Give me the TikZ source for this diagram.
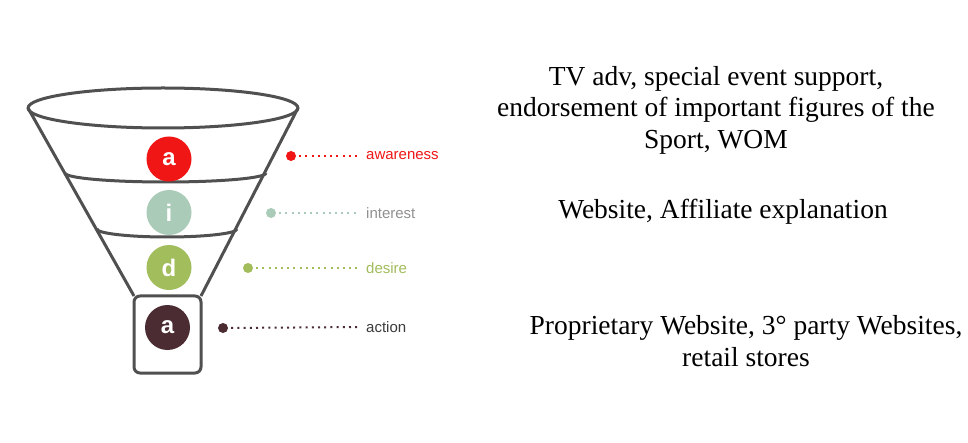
\documentclass[tikz,border=0pt]{standalone}
\usepackage{fontspec}
\setmainfont{Liberation Serif}
\newfontfamily\labelfont{Liberation Sans}
\begin{document}
\begin{tikzpicture}[x=1pt,y=-1pt,
  funnel/.style={draw=funnelgray,line width=3pt,line join=round},
  stagecircle/.style={circle,minimum size=45pt,inner sep=0pt,text=white,
    font=\labelfont\bfseries\fontsize{24}{24}\selectfont},
  stagedot/.style={circle,minimum size=10pt,inner sep=0pt},
  stagelabel/.style={anchor=west,inner sep=0pt,font=\labelfont\fontsize{15}{15}\selectfont},
  leader/.style={line width=2pt,dash pattern=on 2pt off 4.2pt,shorten <=3pt,shorten >=9pt},
  note/.style={align=center,inner sep=0pt,font=\fontsize{27.5}{31.5}\selectfont}]
\definecolor{funnelgray}{HTML}{505050}
\definecolor{awarered}{HTML}{F01616}
\definecolor{interestgreen}{HTML}{A9CBB7}
\definecolor{desireolive}{HTML}{A2BD5C}
\definecolor{actionbrown}{HTML}{4B2C32}
\definecolor{interestgray}{HTML}{8E938F}
\definecolor{actiongray}{HTML}{3C3C3C}

\fill[white] (0,0) rectangle (968,443);
\useasboundingbox (0,0) rectangle (968,443);

% funnel outline
\draw[funnel] (163,108) ellipse [x radius=135pt, y radius=20pt];
\draw[funnel,rounded corners=6pt] (134,296) rectangle (201,373);
\draw[funnel] (28,108) -- (134,296);
\draw[funnel] (298,108) -- (201,296);
% band separators
\draw[funnel] (65,173) .. controls (65,178) and (110,182) .. (165.5,182)
  .. controls (221,182) and (266,178) .. (266,173);
\draw[funnel] (97,229) .. controls (97,233.4) and (129,237) .. (167,237)
  .. controls (205,237) and (237,233.4) .. (237,229);

% stage circles
\node[stagecircle,fill=awarered] (c1) at (169,159) {a};
\node[stagecircle,fill=interestgreen] (c2) at (169,212.5) {i};
\node[stagecircle,fill=desireolive] (c3) at (169,267.5) {d};
\node[stagecircle,fill=actionbrown] (c4) at (167.5,327.5) {a};

% markers, leaders and labels
\node[stagedot,fill=awarered] (d1) at (291,156) {};
\node[stagedot,fill=interestgreen] (d2) at (271,213) {};
\node[stagedot,fill=desireolive] (d3) at (248,268) {};
\node[stagedot,fill=actionbrown] (d4) at (223,328) {};

\node[stagelabel,text=awarered] (l1) at (366,156) {awareness};
\node[stagelabel,text=interestgray] (l2) at (366,213) {interest};
\node[stagelabel,text=desireolive] (l3) at (366,268) {desire};
\node[stagelabel,text=actiongray] (l4) at (366,327) {action};

\draw[leader,draw=awarered] (d1) -- (l1.west);
\draw[leader,draw=interestgreen] (d2) -- (l2.west);
\draw[leader,draw=desireolive] (d3) -- (l3.west);
\draw[leader,draw=actionbrown] (d4) -- (l4.west);

% channel notes
\node[note] (n1) at (716,110) {TV adv, special event support,\\endorsement of important figures of the\\Sport, WOM};
\node[note] (n2) at (723,212) {Website, Affiliate explanation};
\node[note] (n3) at (746,341) {Proprietary Website, 3° party Websites,\\retail stores};
\end{tikzpicture}
\end{document}
